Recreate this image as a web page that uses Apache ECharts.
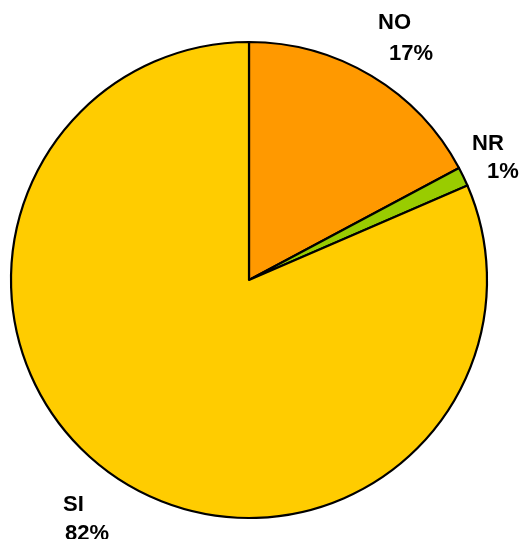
<!DOCTYPE html>
<html><head><meta charset="utf-8">
<script src="https://cdn.jsdelivr.net/npm/echarts@6/dist/echarts.min.js"></script>
<style>html,body{margin:0;padding:0;background:#fff}#c{width:522px;height:539px}</style>
</head><body><div id="c"></div>
<script>
const categories = ['NO', 'NR', 'SI'];
const values = [17.2, 1.3, 81.5];
const colors = ['#FF9900', '#99CC00', '#FFCC00'];
// label block placement (left, top), second-line indent, line height
const labelLayoutSpec = [
  {x: 378, y: 7, indent: 11, lh: 31},
  {x: 472, y: 130, indent: 15, lh: 28},
  {x: 63, y: 490, indent: 2, lh: 29}
];
const chart = echarts.init(document.getElementById('c'), null, {renderer: 'canvas'});
const font = {fontFamily: 'Liberation Sans, Arial, sans-serif', fontWeight: 'bold', fontSize: 22, color: '#000'};
chart.setOption({
  animation: false,
  backgroundColor: '#fff',
  series: [{
    type: 'pie',
    center: [249, 280],
    radius: 238,
    startAngle: 90,
    clockwise: true,
    avoidLabelOverlap: false,
    itemStyle: {borderColor: '#000', borderWidth: 2.2},
    emphasis: {disabled: true},
    labelLine: {show: false},
    data: categories.map((c, i) => ({
      name: c, value: values[i],
      itemStyle: {color: colors[i]},
      label: {
        rich: {
          n: Object.assign({lineHeight: labelLayoutSpec[i].lh}, font),
          p: Object.assign({lineHeight: labelLayoutSpec[i].lh, padding: [0, 0, 0, labelLayoutSpec[i].indent]}, font)
        }
      }
    })),
    label: {
      show: true,
      position: 'outside',
      formatter: p => '{n|' + p.name + '}\n{p|' + Math.round(p.percent) + '%}'
    },
    labelLayout: params => {
      const s = labelLayoutSpec[params.dataIndex];
      return {x: s.x, y: s.y, align: 'left', verticalAlign: 'top'};
    }
  }]
});
</script></body></html>
